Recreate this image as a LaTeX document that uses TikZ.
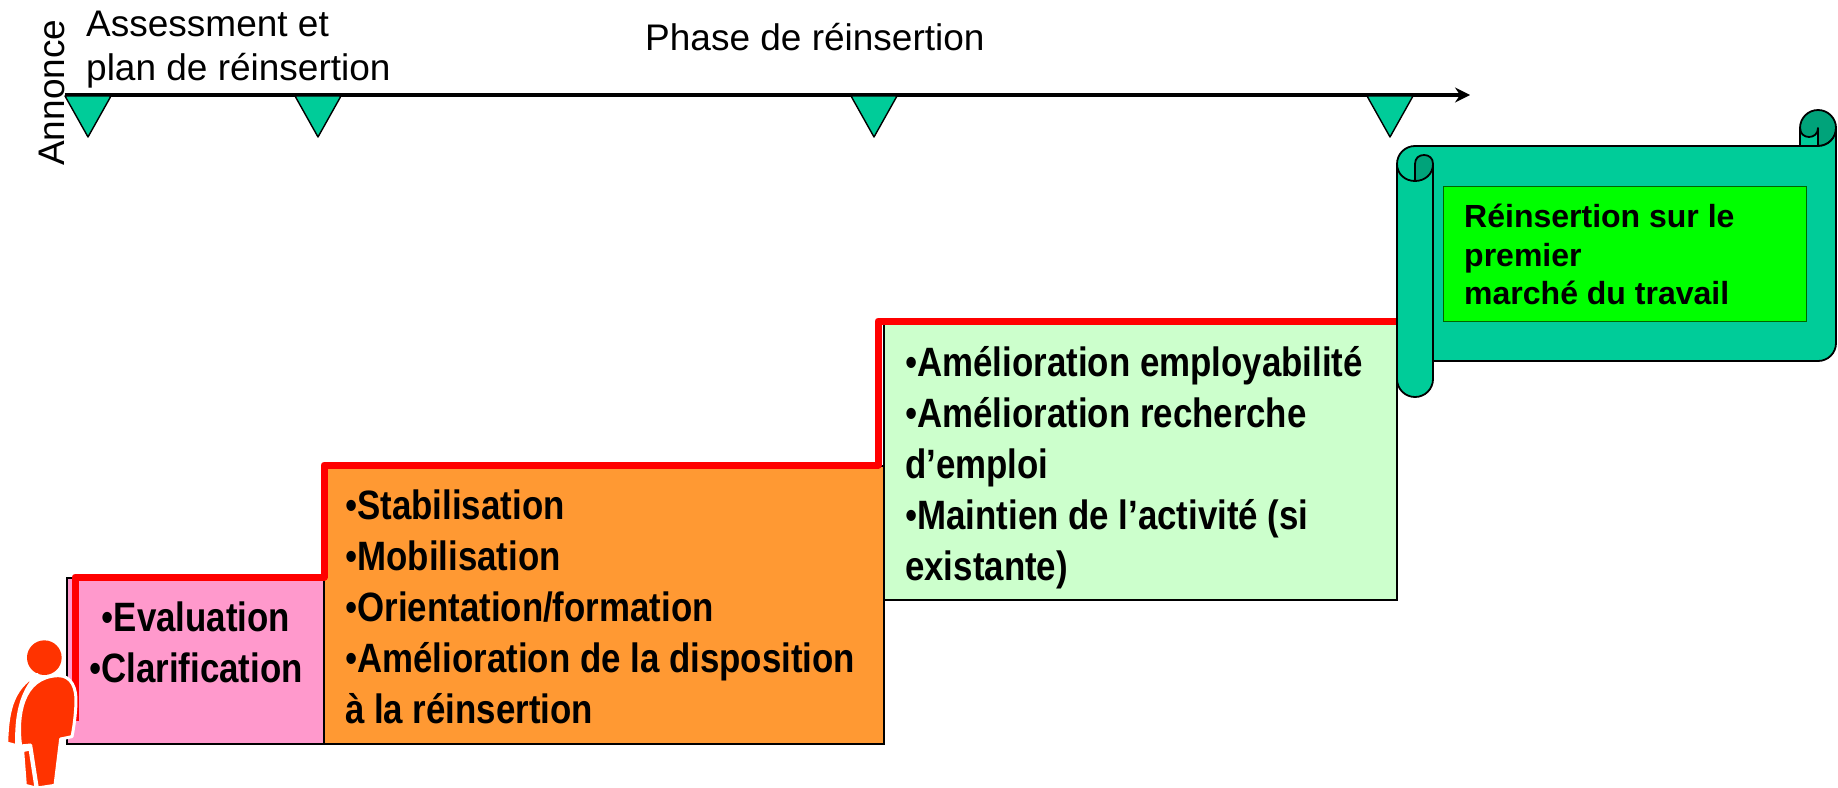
\documentclass[tikz,border=0pt]{standalone}
\usepackage{fontspec}
\setmainfont{Liberation Sans}
\newfontfamily\boxfont[FakeStretch=0.85]{Liberation Sans}
\usetikzlibrary{arrows.meta}
\definecolor{scrollc}{HTML}{00CC99}
\definecolor{scrolld}{HTML}{00A37A}
\definecolor{pinkc}{HTML}{FF99CC}
\definecolor{orangec}{HTML}{FF9933}
\definecolor{lgreen}{HTML}{CCFFCC}
\definecolor{personc}{HTML}{FF3300}
\tikzset{
  stepbox/.style={draw=black,line width=1.6pt,anchor=north west,inner sep=0pt,outer sep=0pt},
  bigtext/.style={inner sep=0pt,font=\boxfont\bfseries\fontsize{41}{51}\selectfont,align=left,anchor=north west},
  plain/.style={inner sep=0pt,font=\fontsize{37}{44}\selectfont,align=left},
  tri/.style={draw=black,line width=1.4pt,fill=scrollc,line join=round},
  scrollline/.style={draw=black,line width=1.8pt,line join=round},
}
\begin{document}
\begin{tikzpicture}[x=1pt,y=-1pt]
\useasboundingbox (0,0) rectangle (1838,787);
% step boxes
\node[stepbox,fill=pinkc,minimum width=257pt,minimum height=166pt] (b1) at (67,578) {};
\node[stepbox,fill=orangec,minimum width=560pt,minimum height=278pt] (b2) at (324,466) {};
\node[stepbox,fill=lgreen,minimum width=513pt,minimum height=279pt] (b3) at (884,321) {};
% red staircase
\coordinate (r0) at (75,721);
\coordinate (r1) at (75,577);
\coordinate (r2) at (324,577);
\coordinate (r3) at (324,465);
\coordinate (r4) at (878,465);
\coordinate (r5) at (878,321);
\coordinate (r6) at (1397,321);
\draw[red,line width=7pt,line join=round] (r0)--(r1)--(r2)--(r3)--(r4)--(r5)--(r6);
% timeline
\coordinate (t0) at (65,95);
\coordinate (t1) at (1470,95);
\draw[line width=4.5pt,-{Stealth[length=15pt,width=15pt,inset=5pt]}] (t0)--(t1);
\foreach \n/\xx in {a/88,b/318,c/874,d/1390}{
  \draw[tri] (\xx-23,96) -- (\xx+23,96) -- (\xx,137) -- cycle;
}
% texts
\node[plain,rotate=90,anchor=base west] (ann) at (64,166) {Annonce};
\node[plain,anchor=north west] (ass) at (86,11) {Assessment et\\plan de réinsertion};
\node[plain,anchor=base west] (ph) at (645,50) {Phase de réinsertion};
\node[bigtext,align=center,anchor=north] (t1a) at (196,602) {{\mdseries•}Evaluation\\{\mdseries•}Clarification};
\node[bigtext] (t2a) at (345,490) {{\mdseries•}Stabilisation\\{\mdseries•}Mobilisation\\{\mdseries•}Orientation/formation\\{\mdseries•}Amélioration de la disposition\\à la réinsertion};
\node[bigtext] (t3a) at (905,346) {{\mdseries•}Amélioration employabilité\\{\mdseries•}Amélioration recherche\\d’emploi\\{\mdseries•}Maintien de l’activité (si\\existante)};
% scroll: back curl
\draw[scrollline,fill=scrolld] (1818,128) circle (18);
\draw[scrollline,fill=scrollc] (1800,128) .. controls (1800,140) and (1818,140) .. (1818,128) -- (1818,146) -- (1800,146) -- cycle;
% scroll body
\fill[scrollc] (1433,361) -- (1818,361)
  .. controls (1828,361) and (1836,353) .. (1836,343) -- (1836,128)
  .. controls (1836,138) and (1828,146) .. (1818,146) -- (1415,146)
  .. controls (1405,146) and (1397,154) .. (1397,164) -- (1397,379)
  .. controls (1397,389) and (1405,397) .. (1415,397)
  .. controls (1425,397) and (1433,389) .. (1433,379) -- cycle;
\draw[scrollline] (1433,361) -- (1818,361)
  .. controls (1828,361) and (1836,353) .. (1836,343) -- (1836,128)
  .. controls (1836,138) and (1828,146) .. (1818,146) -- (1415,146)
  .. controls (1405,146) and (1397,154) .. (1397,164) -- (1397,379)
  .. controls (1397,389) and (1405,397) .. (1415,397)
  .. controls (1425,397) and (1433,389) .. (1433,379) -- (1433,164);
\draw[scrollline,fill=scrolld] (1415,181) -- (1415,164)
  .. controls (1415,158) and (1419,155) .. (1424,155)
  .. controls (1429,155) and (1433,158) .. (1433,164)
  .. controls (1433,174) and (1425,181) .. (1415,181) -- cycle;
\draw[scrollline] (1397,164) .. controls (1397,174) and (1405,181) .. (1415,181);
\node[draw=black!60!green,line width=1.4pt,fill=green,anchor=north west,minimum width=363pt,minimum height=135pt,inner sep=0pt] (g) at (1443,186) {};
\node[inner sep=0pt,font=\bfseries\fontsize{32}{38.5}\selectfont,align=left,anchor=north west] (gt) at (1464,204) {Réinsertion sur le\\premier\\marché du travail};
% person
\begin{scope}[x=.3333pt,y=-.3333pt,yshift=-560pt]
\fill[personc] (133,293) circle (52);
\draw[white,line width=3pt,fill=personc,line join=round] (20,549) .. controls (23,470) and (30,385) .. (112,343)
  .. controls (60,400) and (48,470) .. (50,557) -- cycle;
\draw[white,line width=3pt,fill=personc,line join=round] (68,572) -- (90,567) -- (108,684) -- (76,676) -- cycle;
\draw[white,line width=3pt,fill=personc,line join=round] (62,558) .. controls (50,470) and (65,350) .. (175,347)
  .. controls (215,347) and (230,385) .. (228,430)
  .. controls (226,470) and (222,500) .. (216,530) -- (182,537) -- (165,676) -- (112,684) -- (92,555) -- cycle;
\end{scope}
\end{tikzpicture}
\end{document}
